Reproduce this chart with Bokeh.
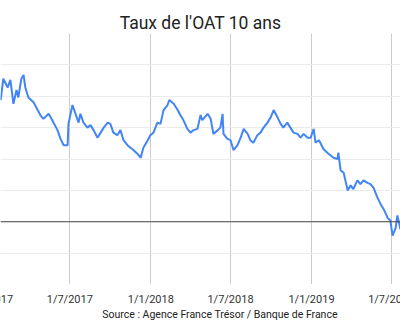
from datetime import datetime, timedelta
import pandas as pd
from bokeh.plotting import figure
from bokeh.layouts import column
from bokeh.models import Range1d, FixedTicker, Span, ColumnDataSource
from bokeh.core.properties import value
from bokeh.embed import file_html
from bokeh.resources import INLINE

title_text = "Taux de l'OAT 10 ans"
source_text = "Source : Agence France Trésor / Banque de France"

dates = [
    "2017-01-25", "2017-01-31", "2017-02-10", "2017-02-16", "2017-02-23", "2017-03-02",
    "2017-03-06", "2017-03-13", "2017-03-18", "2017-03-22", "2017-03-29", "2017-04-10",
    "2017-04-19", "2017-04-25", "2017-05-02", "2017-05-14", "2017-05-25", "2017-06-03",
    "2017-06-10", "2017-06-17", "2017-06-26", "2017-06-28", "2017-07-07", "2017-07-14",
    "2017-07-21", "2017-07-25", "2017-08-01", "2017-08-10", "2017-08-17", "2017-08-24",
    "2017-09-02", "2017-09-09", "2017-09-16", "2017-09-25", "2017-10-01", "2017-10-08",
    "2017-10-17", "2017-10-24", "2017-10-31", "2017-11-09", "2017-11-16", "2017-11-23",
    "2017-12-02", "2017-12-09", "2017-12-15", "2017-12-25", "2017-12-31", "2018-01-07",
    "2018-01-16", "2018-01-23", "2018-01-30", "2018-02-08", "2018-02-12", "2018-02-22",
    "2018-03-03", "2018-03-09", "2018-03-16", "2018-03-25", "2018-04-01", "2018-04-08",
    "2018-04-17", "2018-04-24", "2018-04-28", "2018-05-10", "2018-05-17", "2018-05-23",
    "2018-06-02", "2018-06-08", "2018-06-13", "2018-06-15", "2018-06-24", "2018-07-01",
    "2018-07-08", "2018-07-17", "2018-07-24", "2018-07-31", "2018-08-09", "2018-08-15",
    "2018-08-22", "2018-08-31", "2018-09-07", "2018-09-14", "2018-09-23", "2018-09-30",
    "2018-10-07", "2018-10-16", "2018-10-23", "2018-10-29", "2018-11-07", "2018-11-14",
    "2018-11-21", "2018-11-30", "2018-12-07", "2018-12-14", "2018-12-23", "2018-12-30",
    "2019-01-06", "2019-01-10", "2019-01-17", "2019-01-21", "2019-01-28", "2019-02-06",
    "2019-02-13", "2019-02-20", "2019-03-01", "2019-03-03", "2019-03-08", "2019-03-15",
    "2019-03-24", "2019-03-31", "2019-04-06", "2019-04-15", "2019-04-22", "2019-04-29",
    "2019-05-08", "2019-05-15", "2019-05-22", "2019-05-31", "2019-06-07", "2019-06-14",
    "2019-06-23", "2019-06-29", "2019-07-04", "2019-07-11", "2019-07-15", "2019-07-22",
]

rates = [
    0.97, 1.14, 1.07, 1.13, 0.94, 1.05,
    0.99, 1.14, 1.17, 1.07, 0.99, 0.95,
    0.89, 0.85, 0.82, 0.86, 0.79, 0.73,
    0.66, 0.61, 0.61, 0.78, 0.93, 0.86,
    0.79, 0.86, 0.79, 0.75, 0.77, 0.73,
    0.67, 0.71, 0.75, 0.79, 0.78, 0.71,
    0.69, 0.73, 0.65, 0.61, 0.59, 0.57,
    0.54, 0.51, 0.59, 0.65, 0.69, 0.71,
    0.79, 0.78, 0.89, 0.93, 0.97, 0.94,
    0.89, 0.85, 0.81, 0.74, 0.71, 0.73,
    0.74, 0.85, 0.81, 0.86, 0.82, 0.70,
    0.73, 0.75, 0.86, 0.70, 0.66, 0.65,
    0.57, 0.61, 0.67, 0.74, 0.70, 0.65,
    0.63, 0.69, 0.71, 0.75, 0.79, 0.83,
    0.89, 0.83, 0.78, 0.75, 0.79, 0.75,
    0.71, 0.70, 0.67, 0.70, 0.67, 0.67,
    0.74, 0.63, 0.65, 0.63, 0.58, 0.55,
    0.53, 0.51, 0.50, 0.55, 0.41, 0.39,
    0.25, 0.29, 0.26, 0.33, 0.30, 0.33,
    0.31, 0.30, 0.27, 0.19, 0.14, 0.10,
    0.03, 0.01, -0.11, -0.05, 0.05, -0.06,
]

tick_dates = ["2017-01-01", "2017-07-01", "2018-01-01", "2018-07-01", "2019-01-01", "2019-07-01"]
tick_labels = ["1/1/2017", "1/7/2017", "1/1/2018", "1/7/2018", "1/1/2019", "1/7/2019"]
y_ticks = [-0.5, -0.25, 0.0, 0.25, 0.5, 0.75, 1.0, 1.25, 1.5]

FONT = "Roboto"
W = 400
TOP_H, FRAME_H, BOT_H = 33, 251, 36

anchor = datetime(2017, 7, 1)
x_range = Range1d(anchor - timedelta(days=157.4), anchor + timedelta(days=751.1))
tick_ts = pd.to_datetime(tick_dates)
tick_ms = [int(t.value // 10**6) for t in tick_ts]

# --- main plot with title in its top border ---
p = figure(width=W, height=TOP_H + FRAME_H, x_axis_type="datetime",
           x_range=x_range, y_range=Range1d(-0.5, 1.5),
           x_axis_location=None, y_axis_location=None,
           output_backend="svg", toolbar_location=None, title=title_text,
           min_border_left=0, min_border_right=0,
           min_border_top=TOP_H, min_border_bottom=0)
p.title.align = "center"
p.title.offset = 3.5
p.title.text_font = FONT
p.title.text_font_size = "17.5px"
p.title.text_font_style = "normal"
p.title.text_color = "#222222"
p.title.standoff = 2
p.outline_line_color = None
p.background_fill_color = "white"
p.border_fill_color = "white"
p.xgrid.ticker = FixedTicker(ticks=tick_ms)
p.xgrid.grid_line_color = "#cccccc"
p.ygrid.ticker = FixedTicker(ticks=y_ticks)
p.ygrid.grid_line_color = "#ebebeb"

src = ColumnDataSource(dict(x=pd.to_datetime(dates), y=rates))
p.line("x", "y", source=src, line_color="#4285F4", line_width=2)
p.add_layout(Span(location=0, dimension="width", line_color="#444444", line_width=1))

# --- bottom strip: tick labels + source ---
bot = figure(width=W, height=BOT_H, x_range=x_range, y_range=Range1d(0, BOT_H),
             x_axis_location=None, y_axis_location=None,
             output_backend="svg", toolbar_location=None, title=None,
             min_border_left=0, min_border_right=0,
             min_border_top=0, min_border_bottom=0)
bot.outline_line_color = None
bot.background_fill_color = "white"
bot.border_fill_color = "white"
bot.grid.visible = False
bot.extra_x_ranges = {"px": Range1d(0, W)}
ticks_src = ColumnDataSource(dict(x=tick_ts, y=[BOT_H - 15.3] * len(tick_labels), t=tick_labels))
bot.text(x="x", y="y", text="t", source=ticks_src, text_align="center",
         text_baseline="alphabetic", text_font=value(FONT),
         text_font_size="11px", text_color="#333333")
bot.text(x=[219.5], y=[BOT_H - 29.5], text=[source_text], x_range_name="px",
         text_align="center", text_baseline="alphabetic", text_font=value(FONT),
         text_font_size="10.5px", text_color="#222222")

layout = column(p, bot, spacing=0)
open("out.html", "w").write(file_html(layout, INLINE))
